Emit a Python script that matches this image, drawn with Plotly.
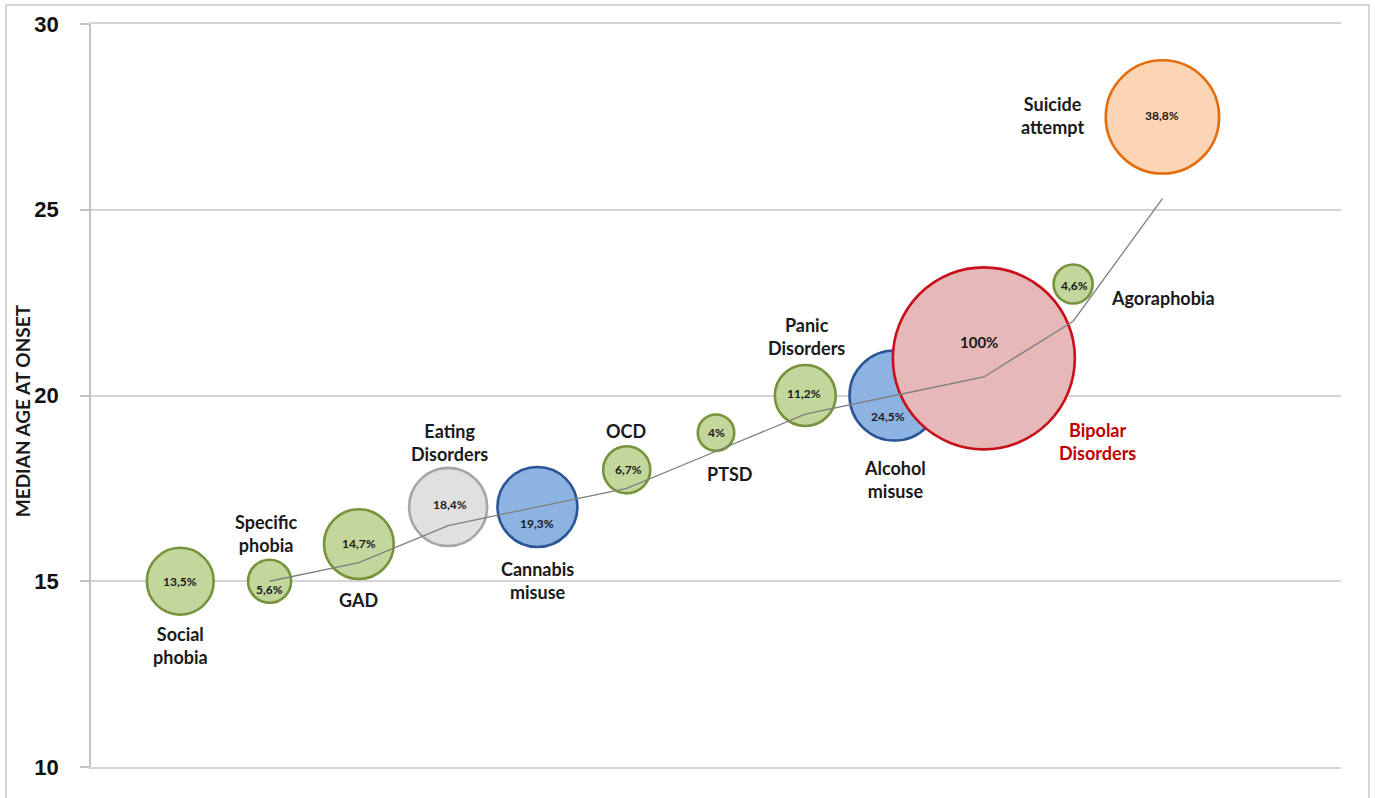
import plotly.graph_objects as go

# ---- data ----
disorders = ["Social phobia", "Specific phobia", "GAD", "Eating Disorders", "Cannabis misuse",
             "OCD", "PTSD", "Panic Disorders", "Alcohol misuse", "Bipolar Disorders",
             "Agoraphobia", "Suicide attempt"]
x_pos = [1, 2, 3, 4, 5, 6, 7, 8, 9, 10, 11, 12]
median_age = [15, 15, 16, 17, 17, 18, 19, 20, 20, 21, 23, 27.5]
pct = [13.5, 5.6, 14.7, 18.4, 19.3, 6.7, 4.0, 11.2, 24.5, 100.0, 4.6, 38.8]
pct_labels = ["13,5%", "5,6%", "14,7%", "18,4%", "19,3%", "6,7%", "4%", "11,2%", "24,5%", "100%", "4,6%", "38,8%"]
groups = ["anx", "anx", "anx", "eat", "sub", "anx", "anx", "anx", "sub", "bip", "anx", "sui"]

trend_x = [2, 3, 4, 5, 6, 7, 8, 9, 10, 11, 12]
trend_y = [15, 15.5, 16.5, 17.0, 17.5, 18.5, 19.5, 20.0, 20.5, 22.0, 25.3]

y_ticks = [10, 15, 20, 25, 30]

# ---- styles ----
fill = {"anx": "#c3d69b", "eat": "#e0e0e0", "sub": "#8db3e2", "bip": "#e6b9b8", "sui": "#fcd5b5"}
edge = {"anx": "#77933c", "eat": "#a6a6a6", "sub": "#2a5597", "bip": "#c8101a", "sui": "#e46c0a"}

# label placement (pixel offsets from bubble centre) and text
label_text = ["Social<br>phobia", "Specific<br>phobia", "GAD", "Eating<br>Disorders", "Cannabis<br>misuse",
              "OCD", "PTSD", "Panic<br>Disorders", "Alcohol<br>misuse", "Bipolar<br>Disorders",
              "Agoraphobia", "Suicide<br>attempt"]
label_dx = [0, -3, 0, 1, 0, -1, 13, 1, 0, 114, 90, -110]
label_dy = [-64, 48, -56, 64, -74, 39, -41, 59, -84, -83, -14, 1]
pct_dx = [0, 0, 0, 2, 0, 2, 0, -1, -7, -5, 1, 0]
pct_dy = [0, -8, 1, 2, -17, 0, 0, 2, -21, 16, -1, 1]

max_diam = 182
grid_col = "#d4d4d4"

fig = go.Figure()
fig.add_trace(go.Scatter(
    x=x_pos, y=median_age, mode="markers",
    marker=dict(
        size=pct, sizemode="area", sizeref=2 * max(pct) / max_diam ** 2,
        color=[fill[g] for g in groups],
        line=dict(color=[edge[g] for g in groups], width=2.6),
        opacity=1,
    ),
    hoverinfo="skip", showlegend=False,
))
fig.add_trace(go.Scatter(
    x=trend_x, y=trend_y, mode="lines",
    line=dict(color="#7f7f7f", width=1.3),
    hoverinfo="skip", showlegend=False,
))

txt_color = "#1a1a1a"
for i in range(len(disorders)):
    col = "#c00000" if groups[i] == "bip" else txt_color
    fig.add_annotation(
        x=x_pos[i], y=median_age[i], xref="x", yref="y",
        text="<b>" + label_text[i] + "</b>", showarrow=False,
        xshift=label_dx[i], yshift=label_dy[i], xanchor="center", yanchor="middle",
        font=dict(family="Lato", size=18, color=col),
    )
    fig.add_annotation(
        x=x_pos[i], y=median_age[i], xref="x", yref="y",
        text="<b>" + pct_labels[i] + "</b>", showarrow=False,
        xshift=pct_dx[i], yshift=pct_dy[i], xanchor="center", yanchor="middle",
        font=dict(family="Lato", size=15 if pct[i] >= 100 else 12, color=txt_color),
    )

# y-axis title
fig.add_annotation(
    x=-0.0553, y=0.48, xref="paper", yref="paper",
    text="<b>MEDIAN AGE AT ONSET</b>", textangle=-90, showarrow=False,
    xanchor="center", yanchor="middle",
    font=dict(family="Lato", size=19, color=txt_color),
)

# outer frame
fig.add_shape(type="rect", xref="paper", yref="paper",
              x0=-0.068, x1=1.0224, y0=-0.08, y1=1.0256,
              line=dict(color="#c8c8c8", width=1.5), fillcolor="rgba(0,0,0,0)", layer="below")

fig.update_layout(
    width=1375, height=798,
    margin=dict(l=91, r=34, t=24, b=31),
    paper_bgcolor="white", plot_bgcolor="white",
    hovermode=False,
    xaxis=dict(range=[0, 14], showgrid=False, zeroline=False, showticklabels=False,
               showline=True, linecolor=grid_col, linewidth=2, mirror=True, ticks=""),
    yaxis=dict(range=[10, 30], tickvals=y_ticks, showgrid=True, gridcolor=grid_col, gridwidth=2,
               zeroline=False, showline=True, linecolor="#c4c4c4", linewidth=1.5,
               ticks="outside", ticklen=9, tickcolor="#c4c4c4", tickwidth=1.5,
               ticklabelstandoff=17,
               tickfont=dict(family="Liberation Sans", size=22, color="#111111", weight="bold")),
)

fig.write_html("out.html", config={"displayModeBar": False},
               post_script="document.body.style.margin='0';document.body.style.overflow='hidden';")
